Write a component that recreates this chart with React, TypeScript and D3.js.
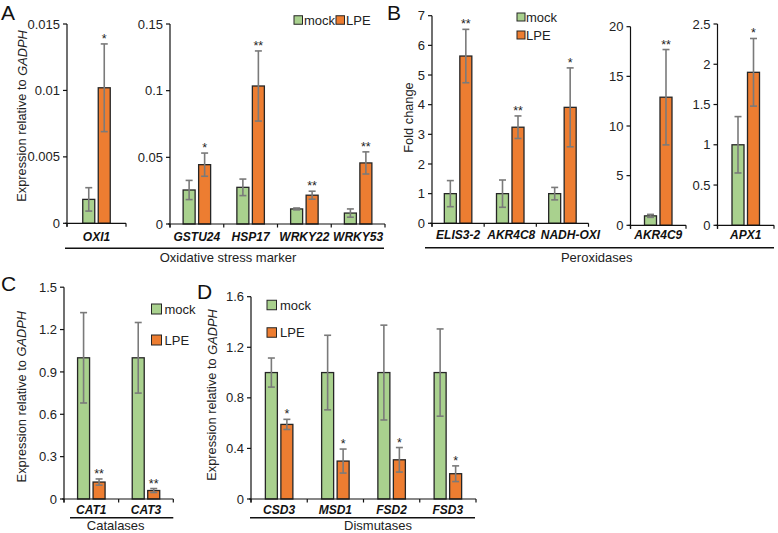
import React from 'react';
import * as d3 from 'd3';

const FONT = '"Liberation Sans", Arial, Helvetica, sans-serif';
const GREEN = '#a9d18e';
const ORANGE = '#ed7d31';
const EDGE = '#262626';
const ERR = '#7a7a7a';

// ---------- DATA ----------
// Panel A (left): OXI1
const aCats1 = ['OXI1'];
const aMock1 = [0.0018];
const aMockErr1 = [0.00088];
const aLpe1 = [0.0102];
const aLpeErr1 = [0.0033];
const aSig1 = ['*'];
const aTicks1 = [0, 0.005, 0.01, 0.015];
const aTickLabels1 = ['0', '0.005', '0.01', '0.015'];

// Panel A (right)
const aCats2 = ['GSTU24', 'HSP17', 'WRKY22', 'WRKY53'];
const aMock2 = [0.0255, 0.0275, 0.0113, 0.0082];
const aMockErr2 = [0.0072, 0.0062, 0.0007, 0.0031];
const aLpe2 = [0.0445, 0.1035, 0.0216, 0.0458];
const aLpeErr2 = [0.0087, 0.0263, 0.003, 0.0083];
const aSig2 = ['*', '**', '**', '**'];
const aTicks2 = [0, 0.05, 0.1, 0.15];
const aTickLabels2 = ['0', '0.05', '0.1', '0.15'];

// Panel B
const bCats1 = ['ELIS3-2', 'AKR4C8', 'NADH-OXI'];
const bMock1 = [1, 1, 1];
const bMockErr1 = [0.44, 0.46, 0.21];
const bLpe1 = [5.64, 3.24, 3.91];
const bLpeErr1 = [0.9, 0.38, 1.33];
const bSig1 = ['**', '**', '*'];
const bTicks1 = [0, 1, 2, 3, 4, 5, 6, 7];
const bTickLabels1 = ['0', '1', '2', '3', '4', '5', '6', '7'];

const bCats2 = ['AKR4C9'];
const bMock2 = [0.95];
const bMockErr2 = [0.15];
const bLpe2 = [12.9];
const bLpeErr2 = [4.8];
const bSig2 = ['**'];
const bTicks2 = [0, 5, 10, 15, 20];
const bTickLabels2 = ['0', '5', '10', '15', '20'];

const bCats3 = ['APX1'];
const bMock3 = [1.0];
const bMockErr3 = [0.35];
const bLpe3 = [1.9];
const bLpeErr3 = [0.42];
const bSig3 = ['*'];
const bTicks3 = [0, 0.5, 1, 1.5, 2, 2.5];
const bTickLabels3 = ['0', '0.5', '1', '1.5', '2', '2.5'];

// Panel C
const cCats = ['CAT1', 'CAT3'];
const cMock = [1, 1];
const cMockErr = [0.32, 0.25];
const cLpe = [0.12, 0.06];
const cLpeErr = [0.022, 0.014];
const cSig = ['**', '**'];
const cTicks = [0, 0.3, 0.6, 0.9, 1.2, 1.5];
const cTickLabels = ['0', '0.3', '0.6', '0.9', '1.2', '1.5'];

// Panel D
const dCats = ['CSD3', 'MSD1', 'FSD2', 'FSD3'];
const dMock = [1, 1, 1, 1];
const dMockErr = [0.115, 0.295, 0.375, 0.345];
const dLpe = [0.59, 0.3, 0.31, 0.2];
const dLpeErr = [0.04, 0.095, 0.097, 0.062];
const dSig = ['*', '*', '*', '*'];
const dTicks = [0, 0.4, 0.8, 1.2, 1.6];
const dTickLabels = ['0', '0.4', '0.8', '1.2', '1.6'];

const legendLabels = ['mock', 'LPE'];

type SubProps = {
  cats: string[]; mock: number[]; mockErr: number[]; lpe: number[]; lpeErr: number[]; sig: string[];
  ticks: number[]; tickLabels: string[];
  x0: number; x1: number; yBase: number; yTop: number; labelY: number; labelDx?: number[];
};

function Sub(p: SubProps) {
  const y = d3.scaleLinear().domain([p.ticks[0], p.ticks[p.ticks.length - 1]]).range([p.yBase, p.yTop]);
  const x = d3.scaleBand().domain(p.cats).range([p.x0, p.x1]);
  const bw = 12;
  const off = 7.75;
  const bounds = [...p.cats.map((c) => x(c) as number), p.x1];
  const bar = (cx: number, v: number, e: number, fill: string, key: string, star?: string) => (
    <g key={key}>
      <rect x={cx - bw / 2} y={y(v)} width={bw} height={p.yBase - y(v)} fill={fill} stroke={EDGE} strokeWidth={1.3} />
      <line x1={cx} x2={cx} y1={y(v + e)} y2={y(Math.max(0, v - e))} stroke={ERR} strokeWidth={1.6} />
      <line x1={cx - 3.5} x2={cx + 3.5} y1={y(v + e)} y2={y(v + e)} stroke={ERR} strokeWidth={1.6} />
      <line x1={cx - 3.5} x2={cx + 3.5} y1={y(Math.max(0, v - e))} y2={y(Math.max(0, v - e))} stroke={ERR} strokeWidth={1.6} />
      {star ? (
        <text x={cx} y={y(v + e) - 1} fontSize={12.5} textAnchor="middle" fill="#222">{star}</text>
      ) : null}
    </g>
  );
  return (
    <g>
      {p.cats.map((c, i) => {
        const cc = (x(c) as number) + x.bandwidth() / 2;
        const dx = p.labelDx ? p.labelDx[i] : 0;
        return (
          <g key={c}>
            {bar(cc - off, p.mock[i], p.mockErr[i], GREEN, 'm')}
            {bar(cc + off, p.lpe[i], p.lpeErr[i], ORANGE, 'l', p.sig[i])}
            <text x={cc + dx} y={p.labelY + 4.3} fontSize={12} fontWeight="bold" fontStyle="italic" textAnchor="middle" fill="#111">{c}</text>
          </g>
        );
      })}
      {/* y axis */}
      <line x1={p.x0} x2={p.x0} y1={p.yTop} y2={p.yBase + 3.5} stroke="#111" strokeWidth={1.2} />
      {p.ticks.map((t, i) => (
        <g key={'t' + i}>
          <line x1={p.x0 - 4} x2={p.x0} y1={y(t)} y2={y(t)} stroke="#111" strokeWidth={1.2} />
          <text x={p.x0 - 7} y={y(t) + 4.6} fontSize={13} textAnchor="end" fill="#222">{p.tickLabels[i]}</text>
        </g>
      ))}
      {/* x axis */}
      <line x1={p.x0 - 2} x2={p.x1} y1={p.yBase} y2={p.yBase} stroke="#111" strokeWidth={1.2} />
      {bounds.map((b, i) => (
        <line key={'b' + i} x1={b} x2={b} y1={p.yBase} y2={p.yBase + 3.5} stroke="#111" strokeWidth={1.2} />
      ))}
    </g>
  );
}

function YLabel({ x, y, children }: { x: number; y: number; children: React.ReactNode }) {
  return (
    <text transform={`translate(${x},${y}) rotate(-90)`} fontSize={12.8} textAnchor="middle" dominantBaseline="central" fill="#222">
      {children}
    </text>
  );
}

function LegendItem({ x, y, size, textX, color, label }: { x: number; y: number; size: number; textX: number; color: string; label: string }) {
  return (
    <g>
      <rect x={x} y={y - size / 2} width={size} height={size} fill={color} stroke={EDGE} strokeWidth={1} />
      <text x={textX} y={y + 4.6} fontSize={13} fill="#222">{label}</text>
    </g>
  );
}

function Group({ x1, x2, y, text, tx, ty }: { x1: number; x2: number; y: number; text: string; tx: number; ty: number }) {
  return (
    <g>
      <line x1={x1} x2={x2} y1={y} y2={y} stroke="#111" strokeWidth={1.6} />
      <text x={tx} y={ty + 4.5} fontSize={13} textAnchor="middle" fill="#222">{text}</text>
    </g>
  );
}

export default function App() {
  return (
    <svg width={778} height={533} style={{ position: 'absolute', left: 0, top: 0, background: '#fff' }} fontFamily={FONT}>
      <rect width={778} height={533} fill="#fff" />
      {/* Panel letters */}
      <text x={1} y={20} fontSize={21} fill="#111">A</text>
      <text x={387} y={20} fontSize={21} fill="#111">B</text>
      <text x={1} y={291} fontSize={21} fill="#111">C</text>
      <text x={197} y={299} fontSize={21} fill="#111">D</text>

      {/* Panel A */}
      <YLabel x={21.5} y={116}>Expression relative to <tspan fontStyle="italic">GADPH</tspan></YLabel>
      <Sub cats={aCats1} mock={aMock1} mockErr={aMockErr1} lpe={aLpe1} lpeErr={aLpeErr1} sig={aSig1}
        ticks={aTicks1} tickLabels={aTickLabels1} x0={67} x1={126} yBase={223.3} yTop={24} labelY={236.7} />
      <Sub cats={aCats2} mock={aMock2} mockErr={aMockErr2} lpe={aLpe2} lpeErr={aLpeErr2} sig={aSig2}
        ticks={aTicks2} tickLabels={aTickLabels2} x0={170} x1={385} yBase={224} yTop={24} labelY={236.7} />
      <LegendItem x={294} y={20} size={8.5} textX={304} color={GREEN} label={legendLabels[0]} />
      <LegendItem x={336} y={20} size={8.5} textX={346} color={ORANGE} label={legendLabels[1]} />
      <Group x1={65} x2={384} y={248.3} text="Oxidative stress marker" tx={228} ty={257.5} />

      {/* Panel B */}
      <YLabel x={408.5} y={117.5}>Fold change</YLabel>
      <Sub cats={bCats1} mock={bMock1} mockErr={bMockErr1} lpe={bLpe1} lpeErr={bLpeErr1} sig={bSig1}
        ticks={bTicks1} tickLabels={bTickLabels1} x0={432} x1={588.5} yBase={223.3} yTop={15.7} labelY={235} labelDx={[0, 1, 8]} />
      <Sub cats={bCats2} mock={bMock2} mockErr={bMockErr2} lpe={bLpe2} lpeErr={bLpeErr2} sig={bSig2}
        ticks={bTicks2} tickLabels={bTickLabels2} x0={630.5} x1={686} yBase={225.3} yTop={26.7} labelY={235} />
      <Sub cats={bCats3} mock={bMock3} mockErr={bMockErr3} lpe={bLpe3} lpeErr={bLpeErr3} sig={bSig3}
        ticks={bTicks3} tickLabels={bTickLabels3} x0={717.5} x1={774} yBase={225.3} yTop={24} labelY={235} />
      <LegendItem x={517} y={17} size={8} textX={526} color={GREEN} label={legendLabels[0]} />
      <LegendItem x={517} y={35} size={8} textX={526} color={ORANGE} label={legendLabels[1]} />
      <Group x1={425} x2={774} y={247.7} text="Peroxidases" tx={596.7} ty={257.5} />

      {/* Panel C */}
      <YLabel x={21} y={396.7}>Expression relative to <tspan fontStyle="italic">GADPH</tspan></YLabel>
      <Sub cats={cCats} mock={cMock} mockErr={cMockErr} lpe={cLpe} lpeErr={cLpeErr} sig={cSig}
        ticks={cTicks} tickLabels={cTickLabels} x0={64} x1={173.3} yBase={499} yTop={287.2} labelY={509.3} />
      <LegendItem x={151.5} y={309} size={10} textX={164.5} color={GREEN} label={legendLabels[0]} />
      <LegendItem x={151.5} y={340} size={10} textX={164.5} color={ORANGE} label={legendLabels[1]} />
      <Group x1={70} x2={173.3} y={517.7} text="Catalases" tx={115.7} ty={525.8} />

      {/* Panel D */}
      <YLabel x={211.7} y={395}>Expression relative to <tspan fontStyle="italic">GADPH</tspan></YLabel>
      <Sub cats={dCats} mock={dMock} mockErr={dMockErr} lpe={dLpe} lpeErr={dLpeErr} sig={dSig}
        ticks={dTicks} tickLabels={dTickLabels} x0={251} x1={476} yBase={499} yTop={296.7} labelY={509.8} />
      <LegendItem x={267} y={305} size={9.5} textX={280} color={GREEN} label={legendLabels[0]} />
      <LegendItem x={267} y={332.5} size={9.5} textX={280} color={ORANGE} label={legendLabels[1]} />
      <Group x1={250} x2={475} y={517.7} text="Dismutases" tx={378} ty={525.8} />
    </svg>
  );
}
